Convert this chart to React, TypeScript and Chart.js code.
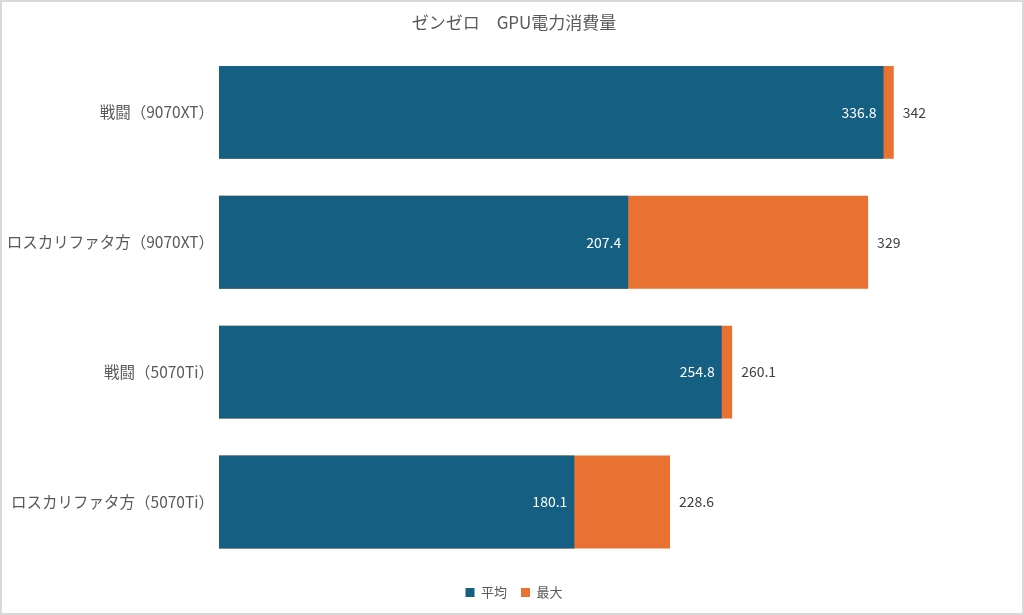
import React, { useEffect, useRef } from "react";
import { Chart, registerables } from "chart.js";

Chart.register(...registerables);

// データ
const categories = ["戦闘（9070XT）", "ロスカリファタ方（9070XT）", "戦闘（5070Ti）", "ロスカリファタ方（5070Ti）"];
const avgValues = [336.8, 207.4, 254.8, 180.1];
const maxValues = [342, 329, 260.1, 228.6];

const FONT = "'Noto Sans CJK JP', 'Noto Sans', sans-serif";

// バーの値ラベル
const valueLabels = {
  id: "valueLabels",
  afterDatasetsDraw(chart: Chart) {
    const ctx = chart.ctx;
    ctx.save();
    ctx.font = `14px ${FONT}`;
    ctx.textBaseline = "middle";
    chart.getDatasetMeta(1).data.forEach((bar: any, i: number) => {
      ctx.fillStyle = "#404040";
      ctx.textAlign = "left";
      ctx.fillText(String(maxValues[i]), bar.x + 9, bar.y);
    });
    chart.getDatasetMeta(0).data.forEach((bar: any, i: number) => {
      ctx.fillStyle = "#ffffff";
      ctx.textAlign = "right";
      ctx.fillText(String(avgValues[i]), bar.x - 7, bar.y);
    });
    ctx.restore();
  },
};

const App: React.FC = () => {
  const chartRef = useRef<HTMLCanvasElement | null>(null);
  const chartInstanceRef = useRef<Chart | null>(null);

  useEffect(() => {
    document.body.style.margin = "0";
    if (!chartRef.current) return;
    const ctx = chartRef.current.getContext("2d");
    if (!ctx) return;

    chartInstanceRef.current = new Chart(ctx, {
      type: "bar",
      data: {
        labels: categories,
        datasets: [
          {
            label: "平均",
            data: avgValues,
            backgroundColor: "#156082",
            grouped: false,
            barPercentage: 0.715,
            categoryPercentage: 1,
          },
          {
            label: "最大",
            data: maxValues,
            backgroundColor: "#E97132",
            grouped: false,
            barPercentage: 0.715,
            categoryPercentage: 1,
          },
        ],
      },
      options: {
        indexAxis: "y",
        animation: false,
        responsive: true,
        maintainAspectRatio: false,
        layout: { padding: { left: 4, right: 0, top: 0, bottom: 4 } },
        scales: {
          x: {
            display: true,
            min: 0,
            max: 407,
            grid: { display: false, drawTicks: false },
            border: { display: false },
            ticks: { display: false },
            afterFit: (scale: any) => {
              scale.height = 5;
            },
          },
          y: {
            grid: { display: false, drawTicks: false },
            border: { display: false },
            ticks: {
              color: "#595959",
              padding: 5,
              font: { family: FONT, size: 15.5 },
            },
            afterFit: (scale: any) => {
              scale.width = 213;
            },
          },
        },
        plugins: {
          title: {
            display: true,
            text: "ゼンゼロ　GPU電力消費量",
            color: "#595959",
            font: { family: FONT, size: 17, weight: "normal" },
            padding: { top: 10, bottom: 15 },
          },
          legend: {
            position: "bottom",
            labels: {
              color: "#595959",
              boxWidth: 9,
              boxHeight: 9,
              padding: 14,
              font: { family: FONT, size: 13 },
            },
          },
          tooltip: { enabled: false },
        },
      },
      plugins: [valueLabels],
    });

    return () => {
      if (chartInstanceRef.current) {
        chartInstanceRef.current.destroy();
      }
    };
  }, []);

  return (
    <div
      style={{
        width: 1024,
        height: 615,
        boxSizing: "border-box",
        border: "2px solid #d9d9d9",
        background: "#ffffff",
      }}
    >
      <canvas ref={chartRef} />
    </div>
  );
};

export default App;
